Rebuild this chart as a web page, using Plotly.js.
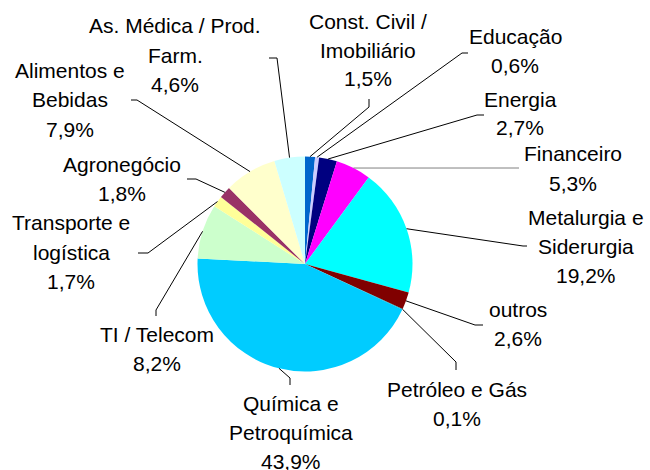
<!DOCTYPE html>
<html>
<head>
<meta charset="utf-8">
<script src="https://cdn.plot.ly/plotly-3.0.1.min.js"></script>
<style>html,body{margin:0;padding:0;background:#fff;}#chart{width:650px;height:470px;}</style>
</head>
<body>
<div id="chart"></div>
<script>
// ---- data ----
var sectorNames = [
  ["Const. Civil /", "Imobiliário"],
  ["Educação"],
  ["Energia"],
  ["Financeiro"],
  ["Metalurgia e", "Siderurgia"],
  ["outros"],
  ["Petróleo e Gás"],
  ["Química e", "Petroquímica"],
  ["TI / Telecom"],
  ["Transporte e", "logística"],
  ["Agronegócio"],
  ["Alimentos e", "Bebidas"],
  ["As. Médica / Prod.", "Farm."]
];
var sharePct = [1.5, 0.6, 2.7, 5.3, 19.2, 2.6, 0.1, 43.9, 8.2, 1.7, 1.8, 7.9, 4.6];
var sliceColors = ["#0066cc", "#ccccff", "#000080", "#ff00ff", "#00ffff", "#800000",
                   "#008080", "#00ccff", "#ccffcc", "#ffff99", "#993366", "#ffffcc", "#ccffff"];

// ---- layout (pixels) ----
var W = 650, H = 470;
var CX = 305, CY = 264, R = 107.5;
// label centre (x) and first-line centre (y)
var labelPos = [[368,21],[515,36],[520,99],[573,154],[586,217],[518,309],[457,389],
                [291,403],[157,334],[71,223],[122,164],[70,71],[175,26]];
var lineGap = 29;
// leader-line waypoints from pie edge to label
var leaderPts = [
  [[369,107],[369,99]],
  [[462,53],[468,53]],
  [[477,115],[484,115]],
  [[519,168]],
  [[523,246],[527,246]],
  [[475,325],[483,325]],
  [[456,362],[456,370]],
  [[290,378],[290,385]],
  [[156,310],[156,316]],
  [[148,253],[138,253]],
  [[196,179],[187,179]],
  [[137,100],[131,100]],
  [[277,58],[269,58]]
];
var leaderColors = ["#000","#000","#000","#808080","#000","#000","#000","#000","#000","#000","#000","#000","#000"];

function px(x){ return x / W; }
function py(y){ return 1 - y / H; }

var total = sharePct.reduce(function(a,b){return a+b;}, 0);
var annotations = [], shapes = [];
var cum = 0;
for (var i = 0; i < sharePct.length; i++) {
  var mid = (cum + sharePct[i] / 2) / total * 2 * Math.PI;
  cum += sharePct[i];
  var ex = CX + R * Math.sin(mid), ey = CY - R * Math.cos(mid);
  var path = "M" + px(ex) + "," + py(ey);
  leaderPts[i].forEach(function(p){ path += " L" + px(p[0]) + "," + py(p[1]); });
  shapes.push({type: "path", xref: "paper", yref: "paper", path: path,
               line: {color: leaderColors[i], width: 1}});
  var lines = sectorNames[i].concat([sharePct[i].toFixed(1).replace(".", ",") + "%"]);
  for (var k = 0; k < lines.length; k++) {
    annotations.push({xref: "paper", yref: "paper", x: px(labelPos[i][0]), y: py(labelPos[i][1] + k * lineGap),
                      xanchor: "center", yanchor: "middle", showarrow: false, text: lines[k],
                      font: {family: "Liberation Sans, Arial, sans-serif", size: 21, color: "#000"}});
  }
}

var trace = {
  type: "pie",
  labels: sectorNames.map(function(n){ return n.join(" "); }),
  values: sharePct,
  sort: false,
  direction: "clockwise",
  rotation: 0,
  textinfo: "none",
  hoverinfo: "none",
  marker: {colors: sliceColors, line: {width: 0}},
  domain: {x: [px(CX - R), px(CX + R)], y: [py(CY + R), py(CY - R)]}
};

Plotly.newPlot("chart", [trace], {
  width: W, height: H,
  margin: {l: 0, r: 0, t: 0, b: 0},
  showlegend: false,
  paper_bgcolor: "#fff",
  annotations: annotations,
  shapes: shapes
}, {staticPlot: true});
</script>
</body>
</html>
